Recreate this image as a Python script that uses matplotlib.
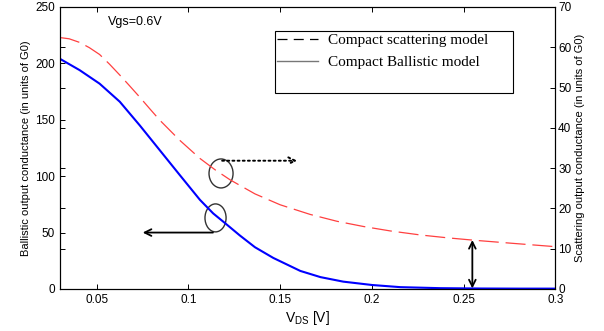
import matplotlib
matplotlib.use('Agg')
import matplotlib.pyplot as plt
from matplotlib.patches import Ellipse
from matplotlib.lines import Line2D

plt.rcParams['font.family'] = ['Liberation Sans', 'DejaVu Sans']
plt.rcParams['mathtext.default'] = 'regular'

# ballistic model (left axis)
vds_ballistic = [0.03, 0.0407, 0.0516, 0.0626, 0.0735, 0.0844, 0.0953, 0.1063, 0.1135, 0.121, 0.128,
                 0.1363, 0.1463, 0.161, 0.172, 0.1844, 0.2002, 0.2156, 0.2374, 0.26, 0.28, 0.30]
g_ballistic = [204, 194, 182, 166, 145, 123, 101, 79, 67, 57, 47.5,
               37, 27.5, 16, 10.5, 6.5, 3.5, 1.6, 0.7, 0.4, 0.3, 0.3]

# scattering model (right axis)
vds_scatter = [0.03, 0.035, 0.0407, 0.046, 0.0516, 0.057, 0.0626, 0.068, 0.0735, 0.079, 0.0844,
               0.0953, 0.1063, 0.1145, 0.1227, 0.1363, 0.15, 0.1664, 0.181, 0.1955, 0.2101,
               0.2265, 0.2411, 0.2556, 0.2775, 0.30]
g_scatter = [62.4, 62.1, 61.2, 59.9, 58.2, 55.8, 53.1, 50.4, 47.6, 44.7, 41.9,
             36.9, 32.4, 29.6, 27.1, 23.6, 20.9, 18.5, 16.8, 15.5, 14.4,
             13.4, 12.7, 12.1, 11.3, 10.5]

xticks = [0.05, 0.1, 0.15, 0.2, 0.25, 0.3]
left_ticks = [0, 50, 100, 150, 200, 250]
right_ticks = [0, 10, 20, 30, 40, 50, 60, 70]

fig = plt.figure(figsize=(6.04, 3.31), dpi=100)
ax1 = fig.add_axes([0.0993, 0.127, 0.8200, 0.852])
ax2 = ax1.twinx()

ax1.plot(vds_ballistic, g_ballistic, color='#0000ff', lw=1.5)
ax2.plot(vds_scatter, g_scatter, color='#ff4040', lw=0.9, dashes=(16, 5.5))

ax1.set_xlim(0.03, 0.3)
ax1.set_ylim(0, 250)
ax2.set_ylim(0, 70)
ax1.set_xticks(xticks)
ax1.set_xticklabels(['0.05', '0.1', '0.15', '0.2', '0.25', '0.3'])
ax1.set_yticks(left_ticks)
ax2.set_yticks(right_ticks)

ax1.tick_params(direction='in', length=3.5, width=0.7, labelsize=8.5, top=True, right=False)
ax2.tick_params(direction='in', length=3.5, width=0.7, labelsize=8.5, left=True,
                labelleft=False, right=True, labelright=True, pad=2)
for ax in (ax1, ax2):
    for s in ax.spines.values():
        s.set_linewidth(0.8)

ax1.set_ylabel('Ballistic output conductance (in units of G0)', fontsize=8, labelpad=3)
ax2.set_ylabel('Scattering output conductance (in units of G0)', fontsize=8, labelpad=3)
ax1.set_xlabel('V$_{DS}$ [V]', fontsize=10, labelpad=2)

ax1.text(0.097, 0.947, 'Vgs=0.6V', transform=ax1.transAxes, fontsize=9, va='center')

# annotations
ax1.add_patch(Ellipse((0.1178, 102.4), 0.0131, 25.7, fill=False, ec='#333333', lw=1.0))
ax1.add_patch(Ellipse((0.1148, 63), 0.0115, 24.8, fill=False, ec='#333333', lw=1.0))
ax1.annotate('', xy=(0.1593, 113.7), xytext=(0.1184, 113.7),
             arrowprops=dict(arrowstyle='->', lw=1.4, ls=':', color='black',
                             shrinkA=0, shrinkB=0, mutation_scale=12))
ax1.annotate('', xy=(0.0751, 50), xytext=(0.1134, 50),
             arrowprops=dict(arrowstyle='->', lw=1.3, color='black',
                             shrinkA=0, shrinkB=0, mutation_scale=12))
ax1.annotate('', xy=(0.2548, 0.5), xytext=(0.2548, 43.4),
             arrowprops=dict(arrowstyle='<->', lw=1.3, color='black',
                             shrinkA=0, shrinkB=0, mutation_scale=12))

handles = [Line2D([], [], color='black', lw=0.9, dashes=(8, 5)),
           Line2D([], [], color='#777777', lw=1.0),
           Line2D([], [], color='none')]
labels = ['Compact scattering model', 'Compact Ballistic model', ' ']
leg = ax1.legend(handles, labels, loc='upper left', bbox_to_anchor=(0.434, 0.715, 0.481, 0.2),
                 mode='expand', borderaxespad=0, borderpad=0.15, fancybox=False,
                 edgecolor='black', framealpha=1, handlelength=2.7, handletextpad=0.6,
                 labelspacing=0.55, prop={'family': 'Liberation Serif', 'size': 11})
leg.get_frame().set_linewidth(0.8)
leg.set_zorder(5)

fig.savefig('out.png', dpi=100)
